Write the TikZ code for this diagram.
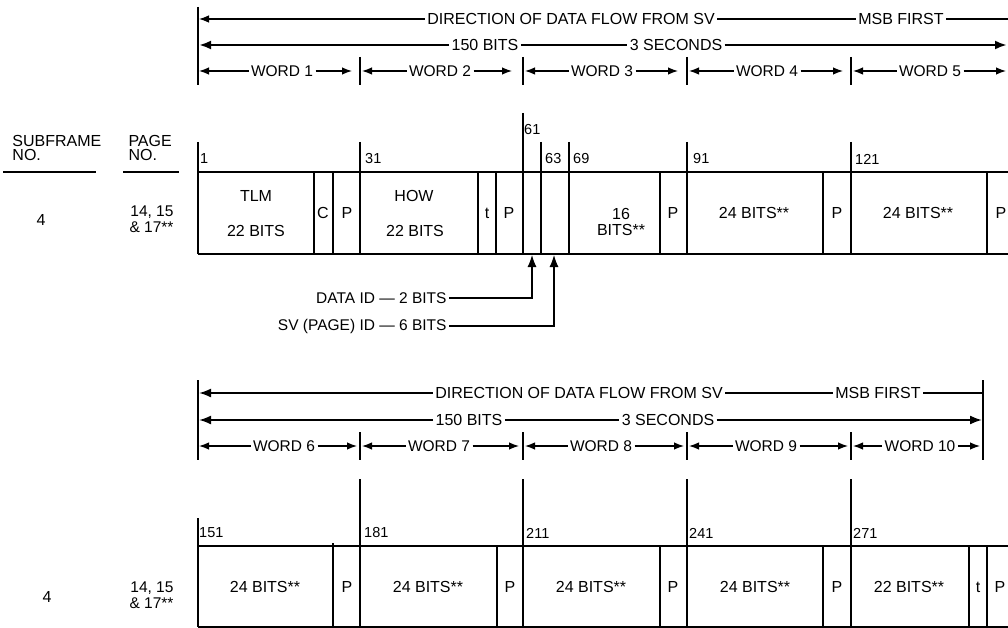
\documentclass[tikz,border=0pt]{standalone}
\usepackage{fontspec}
\setmainfont{Liberation Sans}
\usetikzlibrary{arrows.meta}
\tikzset{
  txt/.style={inner sep=0pt, outer sep=2.5pt, font=\fontsize{16}{16}\selectfont},
  wtxt/.style={txt, font=\fontsize{15.5}{16}\selectfont},
  ltxt/.style={txt, font=\fontsize{15.5}{15}\selectfont},
  num/.style={inner sep=0pt, anchor=west, font=\fontsize{14.5}{14.5}\selectfont},
  tip/.style={-{Latex[length=10pt,width=7.5pt]}},
  bigtip/.style={-{Latex[length=12pt,width=9pt]}},
  hairline/.style={line width=1.1pt},
  wordline/.style={line width=1.3pt},
  heavyline/.style={line width=2.6pt},
  midline/.style={line width=1.9pt},
  boxline/.style={line width=1.3pt},
}
\begin{document}
\begin{tikzpicture}[x=1pt,y=-1pt]
\useasboundingbox (0,0) rectangle (1008,628);

% ================= TOP HEADER =================
\draw[boxline] (198,7) -- (198,85);
\node[txt] (dirA) at (571,19) {DIRECTION OF DATA FLOW FROM SV};
\node[txt] (msbA) at (901,19) {MSB FIRST};
\coordinate (dirAL) at (199,19);
\coordinate (dirAR) at (1008,19);
\draw[hairline,tip] (dirA) -- (dirAL);
\draw[hairline] (dirA) -- (msbA);
\draw[hairline] (msbA) -- (dirAR);

\node[txt] (bitsA) at (485,45) {150 BITS};
\node[txt] (secA) at (676,45) {3 SECONDS};
\coordinate (bitsAL) at (199,45);
\coordinate (secAR) at (1007,45);
\draw[heavyline,bigtip] (bitsA) -- (bitsAL);
\draw[hairline] (bitsA) -- (secA);
\draw[heavyline,bigtip] (secA) -- (secAR);

\foreach \x in {360,523,687,851} \draw[boxline] (\x,57) -- (\x,85);
\foreach \n/\c/\a/\b in {1/282/199/352,2/440/362/512,3/602/525/678,4/767/689/843,5/930/853/1006}{
  \node[wtxt] (w\n) at (\c,71) {WORD \n};
  \coordinate (wl\n) at (\a,71);
  \coordinate (wr\n) at (\b,71);
  \draw[wordline,tip] (w\n) -- (wl\n);
  \draw[wordline,tip] (w\n) -- (wr\n);
}

% ================= LEFT LABELS =================
\node[txt, align=left, anchor=west, font=\fontsize{16}{14}\selectfont] (sfA) at (10,148) {SUBFRAME\\NO.};
\node[txt, align=left, anchor=west, font=\fontsize{16}{14}\selectfont] (pgA) at (126,148) {PAGE\\NO.};
\draw[boxline] (3,172) -- (96,172);
\draw[boxline] (123,172) -- (179,172);
\node[txt] (sfnA) at (41,220) {4};
\node[txt, align=right, anchor=east, font=\fontsize{15.5}{15.5}\selectfont] (pgnA) at (176,219) {14, 15\\\& 17**};

% ================= TOP BOX =================
\draw[boxline] (198,172) -- (1008,172);
\draw[boxline] (198,254) -- (1008,254);
\foreach \x/\t in {198/142,314/172,333/172,360/142,478/172,496/172,523/113,541/142,569/142,660/172,687/142,823/172,851/142,987/172}
  \draw[boxline] (\x,\t) -- (\x,254);
\foreach \x/\y/\s in {200/159/1,365/159/31,524/130/61,545/159/63,573/159/69,693/159/91,855/159/121}
  \node[num] at (\x,\y) {\s};

\node[txt] (tlm) at (256,196) {TLM};
\node[txt] (tlmb) at (256,231) {22 BITS};
\node[txt] (cA) at (323,213) {C};
\node[txt] (pA1) at (347,213) {P};
\node[txt] (how) at (414,196) {HOW};
\node[txt] (howb) at (415,231) {22 BITS};
\node[txt] (tA) at (487,213) {t};
\node[txt] (pA2) at (509,213) {P};
\node[txt, align=center, font=\fontsize{16}{16}\selectfont] (b16) at (621,222) {16\\BITS**};
\node[txt] (pA3) at (673,213) {P};
\node[txt] (b24a) at (754,213) {24 BITS**};
\node[txt] (pA4) at (837,213) {P};
\node[txt] (b24b) at (918,213) {24 BITS**};
\node[txt] (pA5) at (1001,213) {P};

% ================= DATA ID / SV ID =================
\node[ltxt, anchor=east] (did) at (449,298) {DATA ID — 2 BITS};
\node[ltxt, anchor=east] (svid) at (449,326) {SV (PAGE) ID — 6 BITS};
\coordinate (tipA) at (532,255);
\coordinate (tipB) at (554,255);
\draw[hairline,bigtip] (did.east) -| (tipA);
\draw[hairline,bigtip] (svid.east) -| (tipB);

% ================= BOTTOM HEADER =================
\draw[boxline] (198,380) -- (198,460);
\draw[boxline] (983,380) -- (983,460);
\node[txt] (dirB) at (579,393) {DIRECTION OF DATA FLOW FROM SV};
\node[txt] (msbB) at (878,393) {MSB FIRST};
\coordinate (dirBL) at (199,393);
\coordinate (dirBR) at (983,393);
\draw[midline,bigtip] (dirB) -- (dirBL);
\draw[hairline] (dirB) -- (msbB);
\draw[hairline] (msbB) -- (dirBR);

\node[txt] (bitsB) at (469,420) {150 BITS};
\node[txt] (secB) at (668,420) {3 SECONDS};
\coordinate (bitsBL) at (199,420);
\coordinate (secBR) at (982,420);
\draw[midline,bigtip] (bitsB) -- (bitsBL);
\draw[hairline] (bitsB) -- (secB);
\draw[midline,bigtip] (secB) -- (secBR);

\foreach \x in {360,523,687,851} \draw[boxline] (\x,432) -- (\x,460);
\foreach \n/\c/\a/\b in {6/284/199/357,7/439/362/519,8/601/525/684,9/766/689/848,10/920/853/980}{
  \node[wtxt] (w\n) at (\c,446) {WORD \n};
  \coordinate (wl\n) at (\a,446);
  \coordinate (wr\n) at (\b,446);
  \draw[wordline,tip] (w\n) -- (wl\n);
  \draw[wordline,tip] (w\n) -- (wr\n);
}

% ================= BOTTOM LABELS =================
\node[txt] (sfnB) at (47,597) {4};
\node[txt, align=right, anchor=east, font=\fontsize{15.5}{15.5}\selectfont] (pgnB) at (176,595) {14, 15\\\& 17**};

% ================= BOTTOM BOX =================
\draw[boxline] (198,546) -- (1008,546);
\draw[boxline] (198,627) -- (1008,627);
\foreach \x/\t in {198/518,333/543,360/479,497/546,523/479,660/546,687/479,823/546,851/479,969/546,987/546}
  \draw[boxline] (\x,\t) -- (\x,627);
\foreach \x/\s in {199/151,364/181,526/211,689/241,853/271}
  \node[num] at (\x,533) {\s};

\node[txt] (c1) at (265,587) {24 BITS**};
\node[txt] (p1) at (347,587) {P};
\node[txt] (c2) at (428,587) {24 BITS**};
\node[txt] (p2) at (510,587) {P};
\node[txt] (c3) at (591,587) {24 BITS**};
\node[txt] (p3) at (673,587) {P};
\node[txt] (c4) at (755,587) {24 BITS**};
\node[txt] (p4) at (837,587) {P};
\node[txt] (c5) at (909,587) {22 BITS**};
\node[txt] (t5) at (978,587) {t};
\node[txt] (p5) at (1000,587) {P};
\end{tikzpicture}
\end{document}
